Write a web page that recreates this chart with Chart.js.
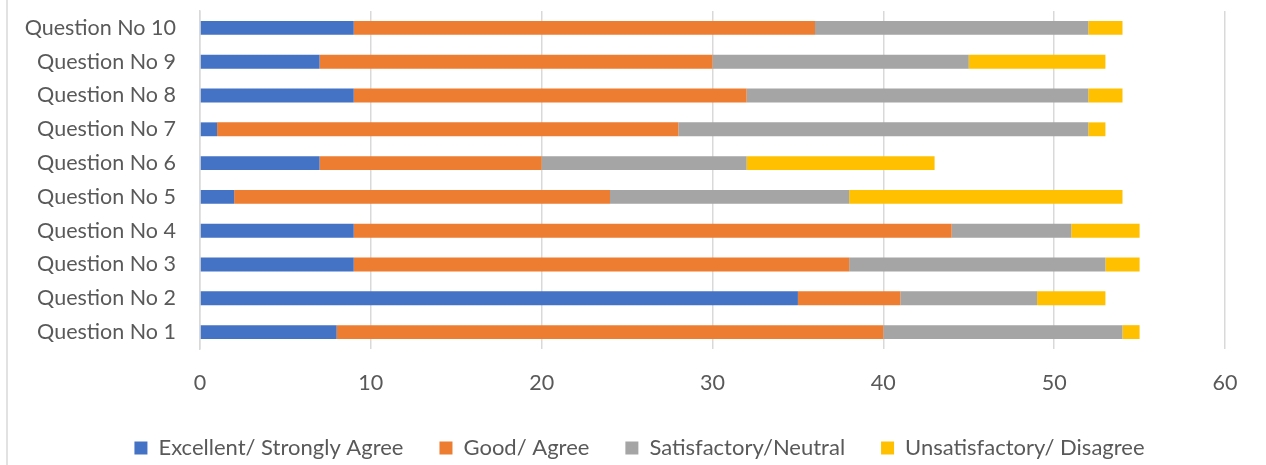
<!DOCTYPE html>
<html>
<head>
<meta charset="utf-8">
<script src="https://cdn.jsdelivr.net/npm/chart.js@4.4.1/dist/chart.umd.min.js"></script>
<style>
    html, body { margin: 0; padding: 0; background: #fff; }
    #wrap { position: relative; width: 1266px; height: 465px; }
</style>
</head>
<body>
<div id="wrap"><canvas id="surveyChart"></canvas></div>
<script>
const questions = ['Question No 1', 'Question No 2', 'Question No 3', 'Question No 4', 'Question No 5',
    'Question No 6', 'Question No 7', 'Question No 8', 'Question No 9', 'Question No 10'];
const excellent = [8, 35, 9, 9, 2, 7, 1, 9, 7, 9];
const good = [32, 6, 29, 35, 22, 13, 27, 23, 23, 27];
const satisfactory = [14, 8, 15, 7, 14, 12, 24, 20, 15, 16];
const unsatisfactory = [1, 4, 2, 4, 16, 11, 1, 2, 8, 2];
const xTicks = [0, 10, 20, 30, 40, 50, 60];

const textColor = '#595959';
const gridColor = '#d9d9d9';
const fontSize = 21.5;

function makeSet(label, data, color) {
    return {
        label: label,
        data: data,
        backgroundColor: color,
        borderWidth: 0,
        categoryPercentage: 1,
        barPercentage: 0.41
    };
}

// fixed legend row height, and nudge it so it sits centred under the page
const legendBox = {
    id: 'legendBox',
    beforeInit(chart) {
        const fit = chart.legend.fit;
        chart.legend.fit = function () {
            fit.call(this);
            this.height = 68;
        };
    },
    afterLayout(chart) {
        chart.legend.left += 27;
        chart.legend.right += 27;
        chart.legend.top += 4;
    }
};

// thin frame line down the left side
const frameLine = {
    id: 'frameLine',
    afterDraw(chart) {
        const c = chart.ctx;
        c.save();
        c.strokeStyle = gridColor;
        c.lineWidth = 1.5;
        c.beginPath();
        c.moveTo(7, 0);
        c.lineTo(7, chart.height);
        c.stroke();
        c.restore();
    }
};

window.onload = () => {
    const ctx = document.getElementById('surveyChart').getContext('2d');
    new Chart(ctx, {
        type: 'bar',
        data: {
            labels: questions,
            datasets: [
                makeSet('Excellent/ Strongly Agree', excellent, '#4472C4'),
                makeSet('Good/ Agree', good, '#ED7D31'),
                makeSet('Satisfactory/Neutral', satisfactory, '#A5A5A5'),
                makeSet('Unsatisfactory/ Disagree', unsatisfactory, '#FFC000')
            ]
        },
        plugins: [legendBox, frameLine],
        options: {
            indexAxis: 'y',
            responsive: true,
            maintainAspectRatio: false,
            animation: false,
            layout: {
                padding: { top: 11, right: 41, bottom: 0, left: 0 }
            },
            scales: {
                x: {
                    stacked: true,
                    min: 0,
                    max: 60,
                    afterBuildTicks: (scale) => {
                        scale.ticks = xTicks.map(v => ({ value: v }));
                    },
                    afterFit: (scale) => { scale.height = 48; },
                    grid: { color: gridColor, lineWidth: 1.5, drawTicks: false },
                    border: { display: false },
                    ticks: { color: textColor, padding: 21, maxRotation: 0, font: { family: 'Lato', size: fontSize } }
                },
                y: {
                    stacked: true,
                    reverse: true,
                    afterFit: (scale) => {
                        scale.width = 200;
                        scale.paddingTop = 0;
                        scale.paddingBottom = 0;
                    },
                    grid: { display: false, drawTicks: false },
                    border: { display: true, color: gridColor, width: 1.5 },
                    ticks: { color: textColor, padding: 24, font: { family: 'Lato', size: fontSize } }
                }
            },
            plugins: {
                legend: {
                    display: true,
                    position: 'bottom',
                    labels: {
                        color: textColor,
                        boxWidth: 13,
                        boxHeight: 13,
                        padding: 36,
                        font: { family: 'Lato', size: 22 }
                    }
                },
                tooltip: { enabled: false }
            }
        }
    });
};
</script>
</body>
</html>
